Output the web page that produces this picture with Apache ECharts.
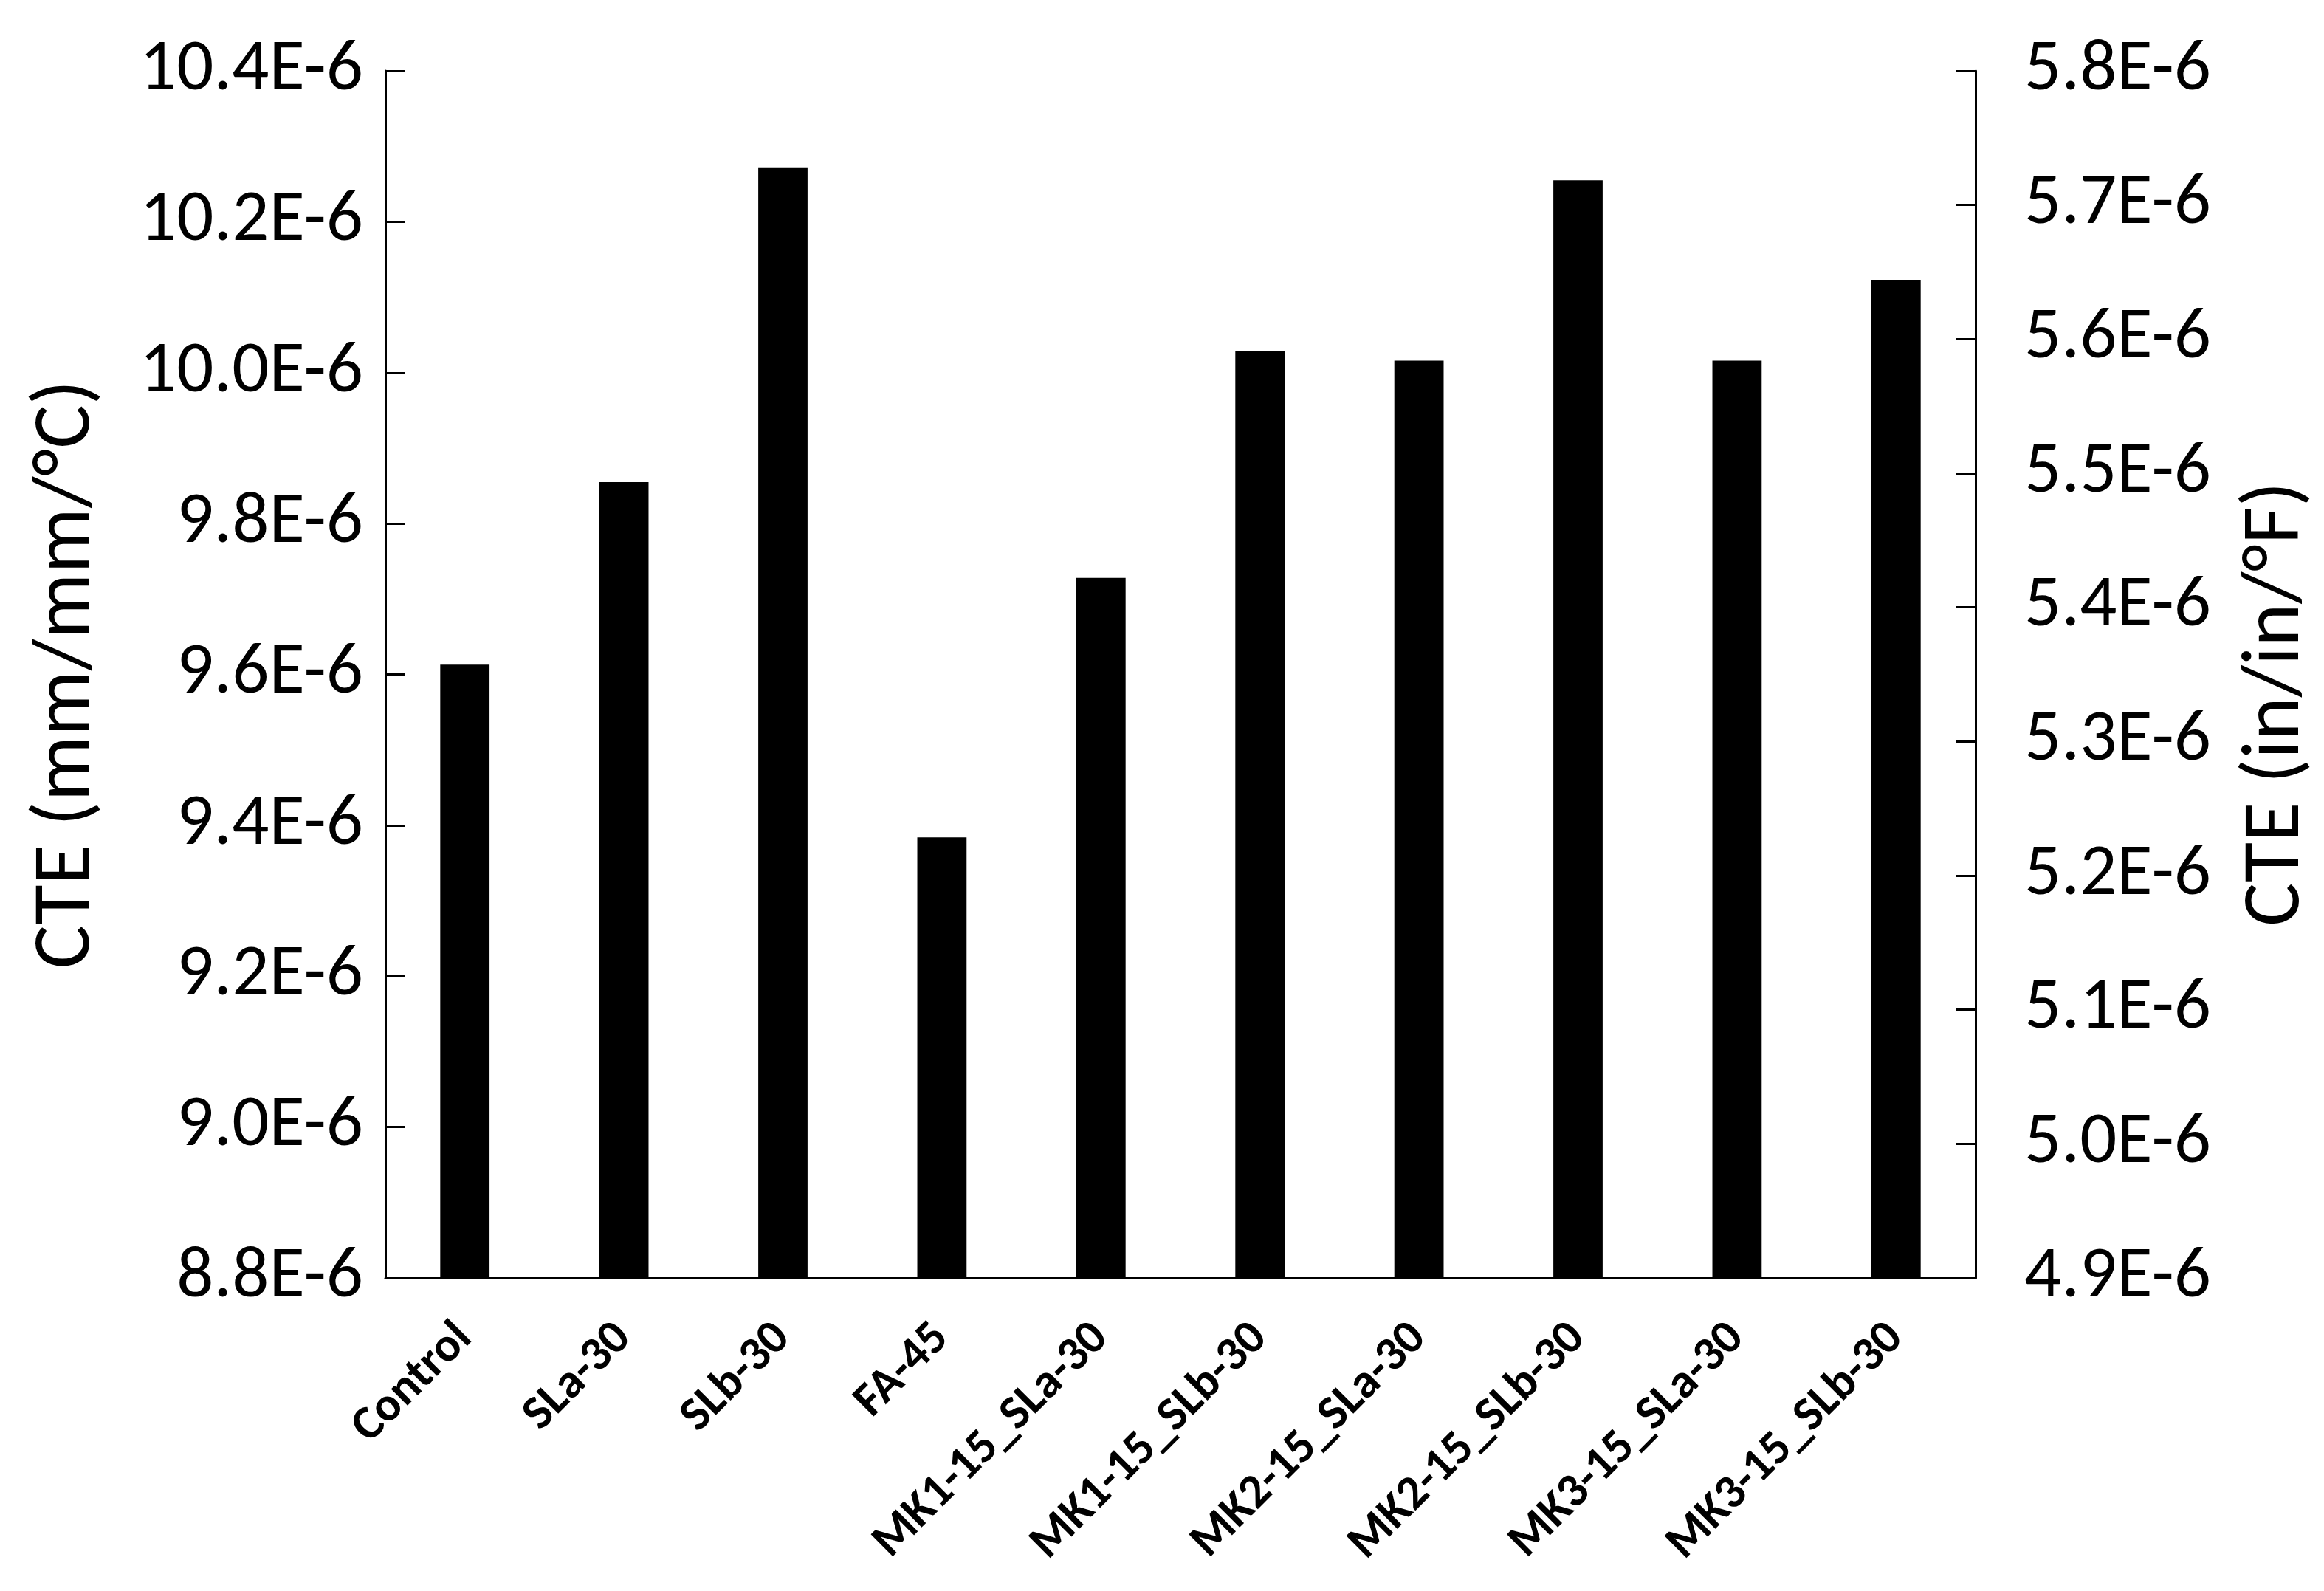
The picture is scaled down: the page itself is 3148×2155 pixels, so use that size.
<!DOCTYPE html>
<html><head><meta charset="utf-8">
<script src="https://cdn.jsdelivr.net/npm/echarts@6/dist/echarts.min.js"></script>
<style>html,body{margin:0;padding:0;background:#fff}#c{width:3148px;height:2155px}</style>
</head><body><div id="c"></div>
<script>
const categories = ["Control","SLa-30","SLb-30","FA-45","MK1-15_SLa-30","MK1-15_SLb-30","MK2-15_SLa-30","MK2-15_SLb-30","MK3-15_SLa-30","MK3-15_SLb-30"];
// CTE in units of 1E-6 mm/mm/°C
const cteValues = [9.613, 9.855, 10.272, 9.384, 9.728, 10.029, 10.016, 10.255, 10.016, 10.123];
const leftTicks = {min: 8.8, max: 10.4, step: 0.2};
const rightTicks = {min: 4.9, max: 5.8, step: 0.1};

const FONT = 'Carlito, Lato, sans-serif';
const chart = echarts.init(document.getElementById('c'), null, {renderer:'canvas'});
const axisLine = {show:true, lineStyle:{color:'#000', width:3}};
chart.setOption({
  animation:false,
  backgroundColor:'#fff',
  grid:{left:522, right:472, top:96, bottom:424, containLabel:false, outerBoundsMode:'none'},
  xAxis:{
    type:'category', data:categories,
    axisLine:axisLine, axisTick:{show:false},
    axisLabel:{rotate:45, interval:0, margin:72, fontFamily:FONT, fontWeight:'bold', fontSize:65, color:'#000'}
  },
  yAxis:[{
    type:'value', position:'left', min:leftTicks.min, max:leftTicks.max, interval:leftTicks.step,
    axisLine:axisLine, axisTick:{show:true, inside:true, length:26, lineStyle:{color:'#000', width:3}},
    splitLine:{show:false},
    axisLabel:{margin:30, fontFamily:FONT, fontSize:99, color:'#000', formatter:v=>v.toFixed(1)+'E-6'},
    name:'CTE (mm/mm/°C)', nameLocation:'middle', nameGap:374, nameRotate:90,
    nameTextStyle:{fontFamily:FONT, fontSize:111, color:'#000'}
  },{
    type:'value', position:'right', min:rightTicks.min, max:rightTicks.max, interval:rightTicks.step,
    axisLine:axisLine, axisTick:{show:true, inside:true, length:26, lineStyle:{color:'#000', width:3}},
    splitLine:{show:false},
    axisLabel:{margin:66, fontFamily:FONT, fontSize:99, color:'#000', formatter:v=>v.toFixed(1)+'E-6'},
    name:'CTE (in/in/°F)', nameLocation:'middle', nameGap:354, nameRotate:90,
    nameTextStyle:{fontFamily:FONT, fontSize:111, color:'#000', padding:[0,80,0,0]}
  }],
  series:[{
    type:'bar', yAxisIndex:0, data:cteValues, barWidth:'31%',
    itemStyle:{color:'#000'}
  }]
});
</script></body></html>
